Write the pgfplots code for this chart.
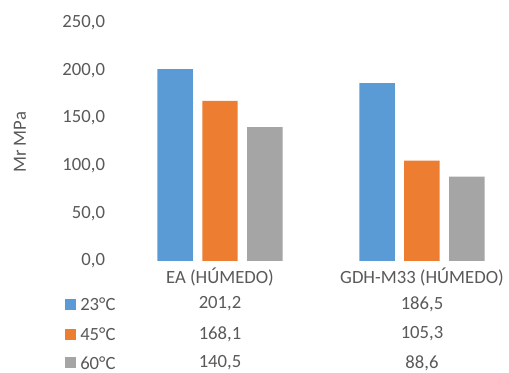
\documentclass[border=0pt]{standalone}
\usepackage{pgfplots}
\pgfplotsset{compat=1.18}
\usepackage{fontspec}
\setmainfont{Carlito}
\definecolor{cblue}{HTML}{5B9BD5}
\definecolor{corange}{HTML}{ED7D31}
\definecolor{cgray}{HTML}{A5A5A5}
\definecolor{txt}{HTML}{595959}
\begin{document}
\begin{tikzpicture}
\useasboundingbox (-89.25pt,-84pt) rectangle (292.5pt,195.75pt);
\begin{axis}[
  at={(0pt,0pt)}, anchor=south west,
  width=292.5pt, height=178.7pt, scale only axis,
  xmin=-0.5, xmax=1.431, ymin=0, ymax=250,
  axis line style={draw=none},
  major tick length=0pt,
  xtick=\empty,
  ytick={0,50,100,150,200,250},
  yticklabel style={text=txt, font=\fontsize{14pt}{16pt}\selectfont, xshift=-7pt},
  /pgf/number format/.cd, fixed, fixed zerofill, precision=1, use comma, assume math mode=true,
  /pgfplots/.cd,
  ybar=7.1pt, bar width=26.6pt,
  clip=false,
]
\addplot[fill=cblue, draw=none] coordinates {(0,201.2) (1,186.5)};
\addplot[fill=corange, draw=none] coordinates {(0,168.1) (1,105.3)};
\addplot[fill=cgray, draw=none] coordinates {(0,140.5) (1,88.6)};
\end{axis}
\begin{scope}[every node/.style={text=txt, font=\fontsize{14pt}{16pt}\selectfont, inner sep=0pt}]
\node[rotate=90] at (-74.25pt,88.9pt) {Mr MPa};
\node at (75.75pt,-11.8pt) {EA (HÚMEDO)};
\node at (227.25pt,-11.8pt) {GDH-M33 (HÚMEDO)};
\fill[cblue] (-40.5pt,-36.4pt) rectangle ++(8.25pt,8.25pt);
\fill[corange] (-40.5pt,-58.9pt) rectangle ++(8.25pt,8.25pt);
\fill[cgray] (-40.5pt,-80.6pt) rectangle ++(8.25pt,8.25pt);
\node[anchor=west] at (-29.25pt,-32.25pt) {23°C};
\node[anchor=west] at (-29.25pt,-54.75pt) {45°C};
\node[anchor=west] at (-29.25pt,-76.5pt) {60°C};
\node at (75.75pt,-32.25pt) {201,2};
\node at (227.25pt,-32.25pt) {186,5};
\node at (75.75pt,-54.75pt) {168,1};
\node at (227.25pt,-54.75pt) {105,3};
\node at (75.75pt,-76.5pt) {140,5};
\node at (227.25pt,-76.5pt) {88,6};
\end{scope}
\end{tikzpicture}
\end{document}
